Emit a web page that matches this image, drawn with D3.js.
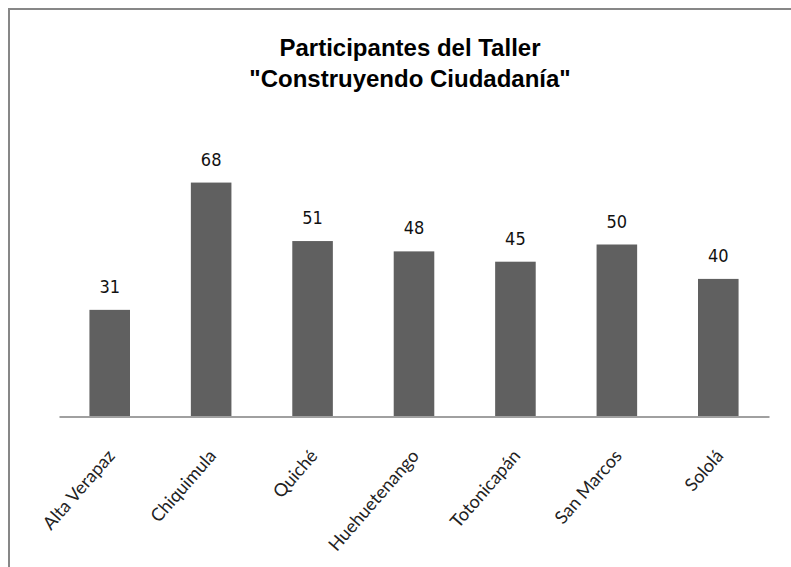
<!DOCTYPE html>
<html>
<head>
<meta charset="utf-8">
<script src="https://cdn.jsdelivr.net/npm/d3@7"></script>
<style>
  body { margin: 0; background: #fff; }
  svg { display: block; }
</style>
</head>
<body>
<div class="graph"></div>
<script>
let departamentos = ["Alta Verapaz", "Chiquimula", "Quiché", "Huehuetenango", "Totonicapán", "San Marcos", "Sololá"];
let participantes = [31, 68, 51, 48, 45, 50, 40];
let titulo = ["Participantes del Taller", "\"Construyendo Ciudadanía\""];

let w = 791;
let h = 567;

let svg = d3
  .select(".graph")
  .append("svg")
  .attr("width", w)
  .attr("height", h);

svg
  .append("rect")
  .attr("x", 9)
  .attr("y", 9)
  .attr("width", 900)
  .attr("height", 700)
  .attr("fill", "#fff")
  .attr("stroke", "#878787")
  .attr("stroke-width", 2);

let xScale = d3
  .scaleBand()
  .domain(departamentos)
  .range([59, 769])
  .paddingInner(0.6)
  .paddingOuter(0.3);

let yScale = d3.scaleLinear().domain([0, 80]).range([416.5, 141.3]);

// barras
svg
  .selectAll(".bar")
  .data(participantes)
  .enter()
  .append("rect")
  .attr("class", "bar")
  .attr("x", (d, i) => xScale(departamentos[i]))
  .attr("y", (d) => yScale(d))
  .attr("width", xScale.bandwidth())
  .attr("height", (d) => yScale(0) - yScale(d))
  .attr("fill", "#606060");

// eje x
let xAxis = d3.axisBottom(xScale).tickSize(0).tickPadding(0);
let gx = svg
  .append("g")
  .attr("id", "x-axis")
  .attr("transform", "translate(0," + yScale(0) + ")")
  .call(xAxis);
gx.select(".domain").attr("stroke", "#a0a0a0").attr("stroke-width", 2);
gx.selectAll(".tick text")
  .attr("font-family", "Lato, 'Open Sans', sans-serif")
  .attr("font-size", 18)
  .attr("fill", "#222")
  .attr("text-anchor", "end")
  .attr("dy", 0)
  .attr("y", 0)
  .attr("transform", "translate(6,40) rotate(-49)");

// etiquetas de valor
svg
  .selectAll(".valor")
  .data(participantes)
  .enter()
  .append("text")
  .attr("class", "valor")
  .attr("x", (d, i) => xScale(departamentos[i]) + xScale.bandwidth() / 2)
  .attr("y", (d) => yScale(d) - 17)
  .attr("text-anchor", "middle")
  .attr("font-family", "'DejaVu Sans Condensed', 'Liberation Sans', sans-serif")
  .attr("font-stretch", "condensed")
  .attr("font-size", 18)
  .attr("fill", "#111")
  .text((d) => d);

// titulo
svg
  .selectAll(".titulo")
  .data(titulo)
  .enter()
  .append("text")
  .attr("class", "titulo")
  .attr("x", 410)
  .attr("y", (d, i) => 56 + i * 31)
  .attr("text-anchor", "middle")
  .attr("font-family", "'Liberation Sans', Arial, sans-serif")
  .attr("font-weight", "bold")
  .attr("font-size", 24)
  .attr("fill", "#000")
  .text((d) => d);
</script>
</body>
</html>
